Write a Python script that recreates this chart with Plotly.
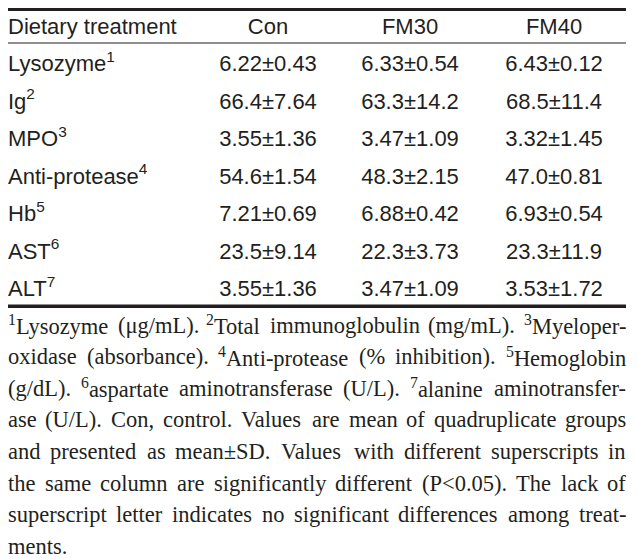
import plotly.graph_objects as go

# table content
header = ["Dietary treatment", "Con", "FM30", "FM40"]
row_labels = ["Lysozyme<sup>1</sup>", "Ig<sup>2</sup>", "MPO<sup>3</sup>", "Anti-protease<sup>4</sup>",
              "Hb<sup>5</sup>", "AST<sup>6</sup>", "ALT<sup>7</sup>"]
con = ["6.22±0.43", "66.4±7.64", "3.55±1.36", "54.6±1.54", "7.21±0.69", "23.5±9.14", "3.55±1.36"]
fm30 = ["6.33±0.54", "63.3±14.2", "3.47±1.09", "48.3±2.15", "6.88±0.42", "22.3±3.73", "3.47±1.09"]
fm40 = ["6.43±0.12", "68.5±11.4", "3.32±1.45", "47.0±0.81", "6.93±0.54", "23.3±11.9", "3.53±1.72"]

notes = [
    "<sup>1</sup>Lysozyme (μg/mL). <sup>2</sup>Total immunoglobulin (mg/mL). <sup>3</sup>Myeloper-",
    "oxidase (absorbance). <sup>4</sup>Anti-protease (% inhibition). <sup>5</sup>Hemoglobin",
    "(g/dL). <sup>6</sup>aspartate aminotransferase (U/L). <sup>7</sup>alanine aminotransfer-",
    "ase (U/L). Con, control. Values are mean of quadruplicate groups",
    "and presented as mean±SD. Values with different superscripts in",
    "the same column are significantly different (P&lt;0.05). The lack of",
    "superscript letter indicates no significant differences among treat-",
    "ments.",
]

# the html body has an 8px margin, so shift the axis ranges to keep page coords
W, H = 638, 559
PAD = 8
INK = "#231f20"
SANS = "Liberation Sans, Arial, sans-serif"
SERIF = "Liberation Serif, Times New Roman, serif"
FS = 22
NOTE_FS = 22.5

left, right = 8, 626
col_x = [left, 268, 410, 554]
head_y = 28
row_y0, row_step = 65.5, 37.5
note_y0, note_step = 325, 31.6

# Times-Roman advance widths (1/1000 em), for justifying the footnote
TW = {' ': 250, '(': 333, ')': 333, '%': 833, ',': 250, '-': 333, '.': 250, '/': 278,
      '<': 564, '±': 564, 'μ': 500,
      'A': 722, 'C': 667, 'D': 722, 'H': 722, 'L': 611, 'M': 889, 'P': 556, 'S': 556,
      'T': 611, 'U': 722, 'V': 722,
      'a': 444, 'b': 500, 'c': 444, 'd': 500, 'e': 444, 'f': 333, 'g': 500, 'h': 500,
      'i': 278, 'k': 500, 'l': 278, 'm': 778, 'n': 500, 'o': 500, 'p': 500, 'q': 500,
      'r': 333, 's': 389, 't': 278, 'u': 500, 'v': 500, 'w': 722, 'x': 500, 'y': 500,
      'z': 444}


def word_width(w, fs):
    w = w.replace("&lt;", "<")
    total = 0.0
    sup = False
    i = 0
    while i < len(w):
        if w.startswith("<sup>", i):
            sup = True
            i += 5
            continue
        if w.startswith("</sup>", i):
            sup = False
            i += 6
            continue
        total += TW.get(w[i], 500) * (0.7 if sup else 1.0)
        i += 1
    return total * fs / 1000.0


fig = go.Figure()

# rules as filled bands: (top, bottom) in page pixels
rules = [(PAD, PAD + 3), (42.5, 43.5), (304.5, 308)]
for r0, r1 in rules:
    fig.add_shape(type="rect", xref="x", yref="y", x0=left, x1=right, y0=r0, y1=r1,
                  fillcolor=INK, line=dict(width=0), layer="above")

n = len(row_labels)
ys = [row_y0 + i * row_step for i in range(n)]

# header row
fig.add_trace(go.Scatter(x=[col_x[0]], y=[head_y], text=[header[0]], mode="text",
                         textposition="middle right", hoverinfo="skip",
                         textfont=dict(family=SANS, size=FS, color=INK)))
fig.add_trace(go.Scatter(x=col_x[1:], y=[head_y] * 3, text=header[1:], mode="text",
                         textposition="middle center", hoverinfo="skip",
                         textfont=dict(family=SANS, size=FS, color=INK)))

# body
fig.add_trace(go.Scatter(x=[col_x[0]] * n, y=ys, text=row_labels, mode="text",
                         textposition="middle right", hoverinfo="skip",
                         textfont=dict(family=SANS, size=FS, color=INK)))
for cx, vals in zip(col_x[1:], [con, fm30, fm40]):
    fig.add_trace(go.Scatter(x=[cx] * n, y=ys, text=vals, mode="text",
                             textposition="middle center", hoverinfo="skip",
                             textfont=dict(family=SANS, size=FS, color=INK)))

# footnote, justified word by word
for k, line in enumerate(notes):
    y = note_y0 + k * note_step
    words = line.split(" ")
    widths = [word_width(w, NOTE_FS) for w in words]
    last = k == len(notes) - 1
    if last or len(words) == 1:
        gap = TW[' '] * NOTE_FS / 1000.0
    else:
        gap = max((right - left - sum(widths)) / (len(words) - 1), 2)
    x = left
    for j, (w, ww) in enumerate(zip(words, widths)):
        if not last and j == len(words) - 1 and j > 0:
            fig.add_annotation(x=right, y=y, xref="x", yref="y", text=w, showarrow=False,
                               xanchor="right", yanchor="middle", borderpad=0, borderwidth=0,
                               font=dict(family=SERIF, size=NOTE_FS, color=INK))
        else:
            fig.add_annotation(x=x, y=y, xref="x", yref="y", text=w, showarrow=False,
                               xanchor="left", yanchor="middle", borderpad=0, borderwidth=0,
                               font=dict(family=SERIF, size=NOTE_FS, color=INK))
        x += ww + gap

fig.update_layout(
    width=W, height=H,
    margin=dict(l=0, r=0, t=0, b=0),
    paper_bgcolor="white", plot_bgcolor="white",
    showlegend=False,
    xaxis=dict(range=[PAD, W + PAD], visible=False, fixedrange=True),
    yaxis=dict(range=[H + PAD, PAD], visible=False, fixedrange=True),
)

fig.write_html("out.html", config={"displayModeBar": False})
